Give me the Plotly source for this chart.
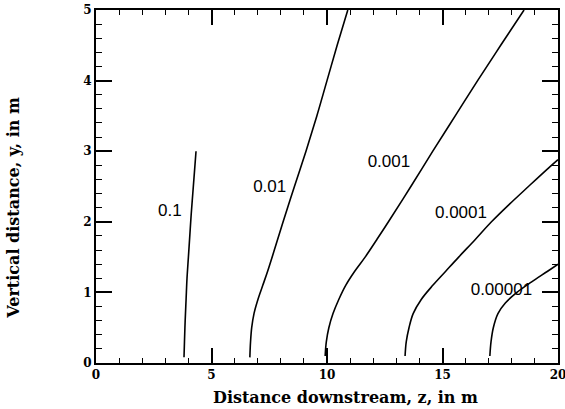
import plotly.graph_objects as go

# Contour data (z = distance downstream, y = vertical distance)
c1_z = [3.81, 3.83, 3.86, 3.90, 3.94, 4.00, 4.06, 4.12, 4.19, 4.26, 4.33]
c1_y = [0.08, 0.30, 0.60, 0.90, 1.20, 1.50, 1.80, 2.10, 2.40, 2.70, 3.00]

c2_z = [6.66, 6.69, 6.74, 6.84, 7.01, 7.22, 7.43, 7.72, 8.10, 8.59, 9.09, 9.56, 10.00, 10.44, 10.90]
c2_y = [0.08, 0.30, 0.50, 0.70, 0.90, 1.10, 1.30, 1.60, 2.00, 2.50, 3.00, 3.50, 4.00, 4.50, 5.00]

c3_z = [9.92, 9.97, 10.08, 10.26, 10.51, 10.81, 11.20, 11.65, 12.16, 12.66, 13.63, 14.58, 15.55, 16.52, 17.52, 18.53]
c3_y = [0.10, 0.30, 0.50, 0.70, 0.90, 1.10, 1.30, 1.50, 1.75, 2.00, 2.50, 3.00, 3.50, 4.00, 4.50, 5.00]

c4_z = [13.38, 13.43, 13.55, 13.73, 14.08, 14.58, 15.14, 15.70, 16.42, 17.12, 17.90, 18.72, 19.55, 20.00]
c4_y = [0.10, 0.30, 0.50, 0.70, 0.90, 1.10, 1.30, 1.50, 1.75, 2.00, 2.25, 2.50, 2.75, 2.88]

c5_z = [17.05, 17.10, 17.20, 17.40, 17.72, 18.22, 18.86, 19.55, 20.00]
c5_y = [0.10, 0.30, 0.50, 0.70, 0.85, 1.00, 1.15, 1.30, 1.40]

label_text = ["0.1", "0.01", "0.001", "0.0001", "0.00001"]
label_z = [3.20, 7.52, 12.68, 15.80, 17.55]
label_y = [2.14, 2.48, 2.83, 2.12, 1.02]

x_ticks = [0, 5, 10, 15, 20]
y_ticks = [0, 1, 2, 3, 4, 5]
x_title = "Distance downstream, z, in m"
y_title = "Vertical distance, y, in m"

fig = go.Figure()
for zs, ys in [(c1_z, c1_y), (c2_z, c2_y), (c3_z, c3_y), (c4_z, c4_y), (c5_z, c5_y)]:
    fig.add_trace(go.Scatter(x=zs, y=ys, mode="lines",
                             line=dict(color="black", width=1.6, shape="spline", smoothing=1.0),
                             showlegend=False, hoverinfo="skip"))

fig.add_trace(go.Scatter(x=label_z, y=label_y, mode="text", text=label_text,
                         textfont=dict(family="Liberation Sans, Arial, sans-serif", size=17, color="black"),
                         showlegend=False, hoverinfo="skip"))

tickfont = dict(family="DejaVu Serif", size=12, color="black", weight="bold")
titlefont = dict(family="DejaVu Serif", size=16, color="black", weight="bold")

fig.update_layout(
    template="none",
    width=565, height=409,
    margin=dict(l=96, r=7, t=10, b=46),
    paper_bgcolor="white", plot_bgcolor="white",
    xaxis=dict(range=[0, 20], tickvals=x_ticks, ticks="inside", ticklen=15, tickwidth=1.5,
               tickcolor="black", mirror="allticks", showline=True, linecolor="black", linewidth=2,
               showgrid=False, zeroline=False, tickfont=tickfont, automargin=False,
               ticklabeloverflow="allow",
               minor=dict(ticks="inside", dtick=1, ticklen=5, tickwidth=1.2, tickcolor="black", showgrid=False)),
    yaxis=dict(range=[0, 5], tickvals=y_ticks, ticks="inside", ticklen=16, tickwidth=1.5,
               tickcolor="black", mirror="allticks", showline=True, linecolor="black", linewidth=2,
               showgrid=False, zeroline=False, tickfont=tickfont, automargin=False,
               ticklabeloverflow="allow",
               minor=dict(ticks="inside", dtick=0.2, ticklen=6, tickwidth=1.2, tickcolor="black", showgrid=False)),
    annotations=[
        dict(text=x_title, xref="paper", yref="paper", x=0.54, y=0, yshift=-34,
             xanchor="center", yanchor="middle", showarrow=False, font=titlefont),
        dict(text=y_title, xref="paper", yref="paper", x=0, xshift=-82, y=0.44,
             xanchor="center", yanchor="middle", textangle=-90, showarrow=False, font=titlefont),
    ],
)

fig.write_html("out.html")
